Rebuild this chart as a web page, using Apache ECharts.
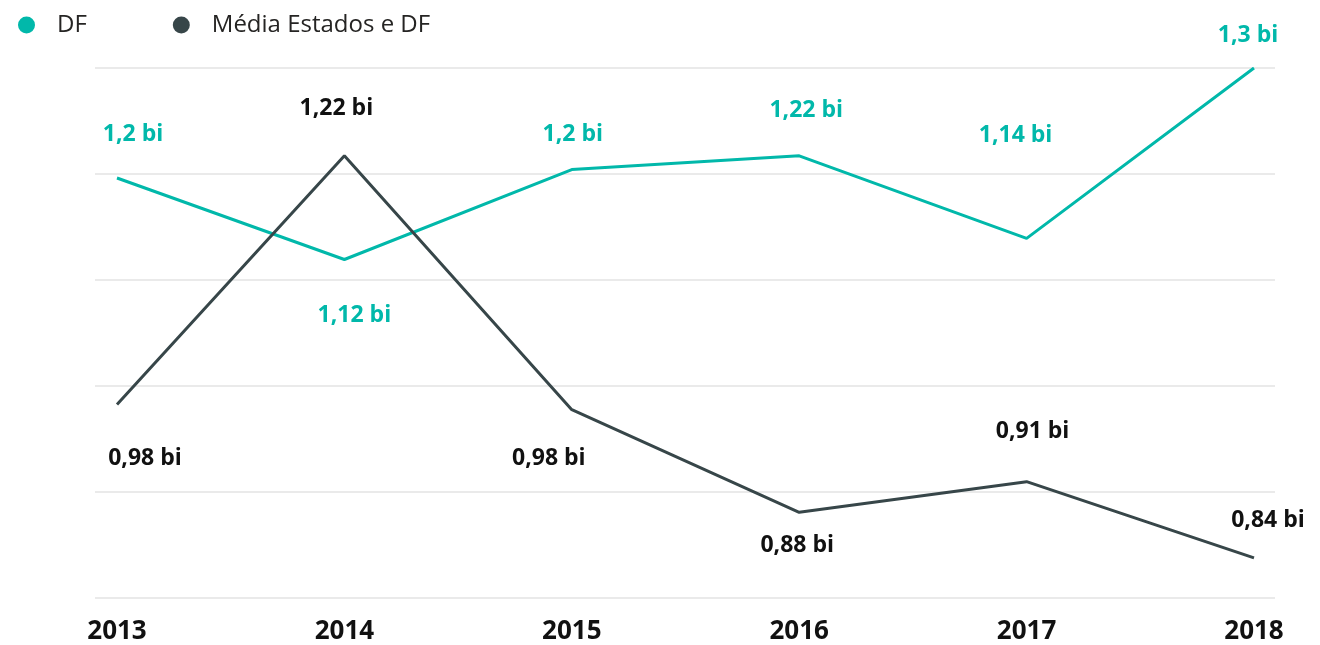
<!DOCTYPE html>
<html>
<head>
<meta charset="utf-8">
<script src="https://cdn.jsdelivr.net/npm/echarts@6/dist/echarts.min.js"></script>
<style>
  html, body { margin: 0; padding: 0; background: #fff; }
  #chart { width: 1320px; height: 645px; }
</style>
</head>
<body>
<div id="chart"></div>
<script>
// dados (em bilhões)
const anos = ['2013', '2014', '2015', '2016', '2017', '2018'];
const valoresDF = [1.196, 1.119, 1.204, 1.217, 1.139, 1.300];
const valoresMedia = [0.982, 1.217, 0.977, 0.880, 0.909, 0.837];
const nomesSeries = ['DF', 'Média Estados e DF'];

// deslocamento dos rótulos em relação ao ponto
const offsetDF = [[16, -44], [10, 56], [1, -35], [7, -45], [-11, -103], [-6, -33]];
const offsetMedia = [[28, 54], [-8, -47], [-23, 49], [-2, 33], [6, -50], [14, -37]];

const corDF = '#01B8AA';
const corMedia = '#374649';
const fonte = '"Open Sans", "Noto Sans", sans-serif';

function fmt(v) {
  return parseFloat(v.toFixed(2)).toString().replace('.', ',') + ' bi';
}

function pontos(valores, offsets) {
  return valores.map((v, i) => ({
    value: v,
    label: { offset: offsets[i] }
  }));
}

function serie(nome, valores, offsets, cor, corRotulo) {
  return {
    name: nome,
    type: 'line',
    data: pontos(valores, offsets),
    showSymbol: true,
    symbol: 'circle',
    symbolSize: 0,
    lineStyle: { color: cor, width: 3 },
    itemStyle: { color: cor },
    label: {
      show: true,
      position: 'inside',
      color: corRotulo,
      fontFamily: fonte,
      fontWeight: 'bold',
      fontSize: 23,
      formatter: p => fmt(p.value)
    },
    emphasis: { disabled: true },
    animation: false
  };
}

const chart = echarts.init(document.getElementById('chart'));
chart.setOption({
  backgroundColor: '#fff',
  legend: {
    left: 13,
    top: 8,
    icon: 'circle',
    itemWidth: 17,
    itemHeight: 17,
    itemGap: 86,
    data: nomesSeries,
    textStyle: {
      fontFamily: fonte,
      fontSize: 24,
      color: '#252423',
      padding: [0, 0, 0, 17]
    }
  },
  grid: [
    { left: 117, right: 66, top: 68, bottom: 47 },
    { left: 95, right: 45, top: 68, bottom: 47 }
  ],
  xAxis: [
    {
      type: 'category',
      gridIndex: 0,
      data: anos,
      boundaryGap: false,
      axisLine: { show: false },
      axisTick: { show: false },
      axisLabel: {
        margin: 22,
        fontFamily: fonte,
        fontWeight: 'bold',
        fontSize: 26,
        color: '#111'
      },
      splitLine: { show: false }
    },
    {
      type: 'value',
      gridIndex: 1,
      show: false
    }
  ],
  yAxis: [
    {
      type: 'value',
      gridIndex: 0,
      min: 0.8,
      max: 1.3,
      interval: 0.1,
      show: false,
      splitLine: { show: false }
    },
    {
      type: 'value',
      gridIndex: 1,
      min: 0.8,
      max: 1.3,
      interval: 0.1,
      axisLine: { show: false },
      axisTick: { show: false },
      axisLabel: { show: false },
      splitLine: { show: true, lineStyle: { color: '#EAEAEA', width: 2 } }
    }
  ],
  series: [
    serie(nomesSeries[0], valoresDF, offsetDF, corDF, corDF),
    serie(nomesSeries[1], valoresMedia, offsetMedia, corMedia, '#111')
  ]
});
</script>
</body>
</html>
